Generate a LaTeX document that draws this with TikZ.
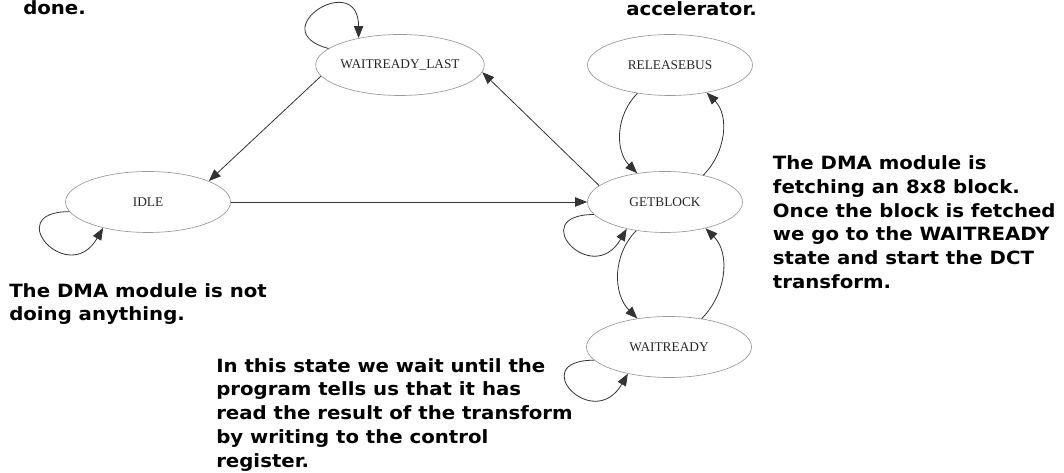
\documentclass[tikz,border=0pt]{standalone}
\usepackage{fontspec}
\setmainfont{Liberation Serif}
\newfontfamily\notefont{DejaVu Sans}[FakeStretch=1.08]
\usetikzlibrary{shapes.geometric}
\usetikzlibrary{positioning}
\usetikzlibrary{arrows.meta}
\tikzset{state/.style={ellipse,draw=black!40,line width=0.5pt,minimum width=123.75pt,minimum height=45.75pt,inner sep=0pt,text=black!85,font=\fontsize{10}{11}\selectfont},
note/.style={anchor=north west,inner sep=0pt,align=left,font=\notefont\bfseries\fontsize{13.7}{17.85}\selectfont},
link/.style={->,line width=0.6pt,draw=black!80}}

\begin{document}
\begin{tikzpicture}[x=0.75pt,y=0.75pt,>={Triangle[length=9pt,width=7pt]}]
\useasboundingbox (0,0) rectangle (1064,473);
\foreach \n/\x/\y/\t in {waitlast/400/408/WAITREADY\_LAST,relbus/670/408/RELEASEBUS,idle/148/271/IDLE,waitrdy/669/126/WAITREADY} {
\node (\n) at (\x,\y) [state] {\t};
}
\node (getblk) at (665,271) [state,minimum width=116.25pt] {GETBLOCK};
\draw[link] (waitlast.188) -- (idle.19);
\draw[link] (getblk.166) -- (waitlast.355);
\draw[link] (idle) -- (getblk);
%\draw[link] (relbus) to [bend right] (getblk);
\foreach \a/\p/\b/\q/\o/\i in {relbus/221/getblk/134/225/135,getblk/35/relbus/323/45/315,getblk/225/waitrdy/138/225/135,waitrdy/41/getblk/327/45/315} {
\draw[link] (\a.\p) to [out=\o,in=\i] (\b.\q);
}
% self loops
\foreach \n/\p/\q in {idle/187/210,getblk/190/215,waitrdy/190/213} {
\draw[link] (\n.\p) to [out=180,in=240,distance=52pt] (\n.\q);
}
\draw[link] (waitlast.167) to [out=165,in=90,distance=52pt] (waitlast.147);
\node (nlast) at (23,458) [note,anchor=base west] {done.};
\node (nrel) at (626,457) [note,anchor=base west] {accelerator.};
\node (nidle) at (9,190) [note] {The DMA module is not\\doing anything.};
\node (nget) at (772.7,317.6) [note] {The DMA module is\\fetching an 8x8 block.\\Once the block is fetched\\we go to the WAITREADY\\state and start the DCT\\transform.};
\node (nwait) at (216,115) [note] {In this state we wait until the\\program tells us that it has\\read the result of the transform\\by writing to the control\\register.};
\end{tikzpicture}
\end{document}
